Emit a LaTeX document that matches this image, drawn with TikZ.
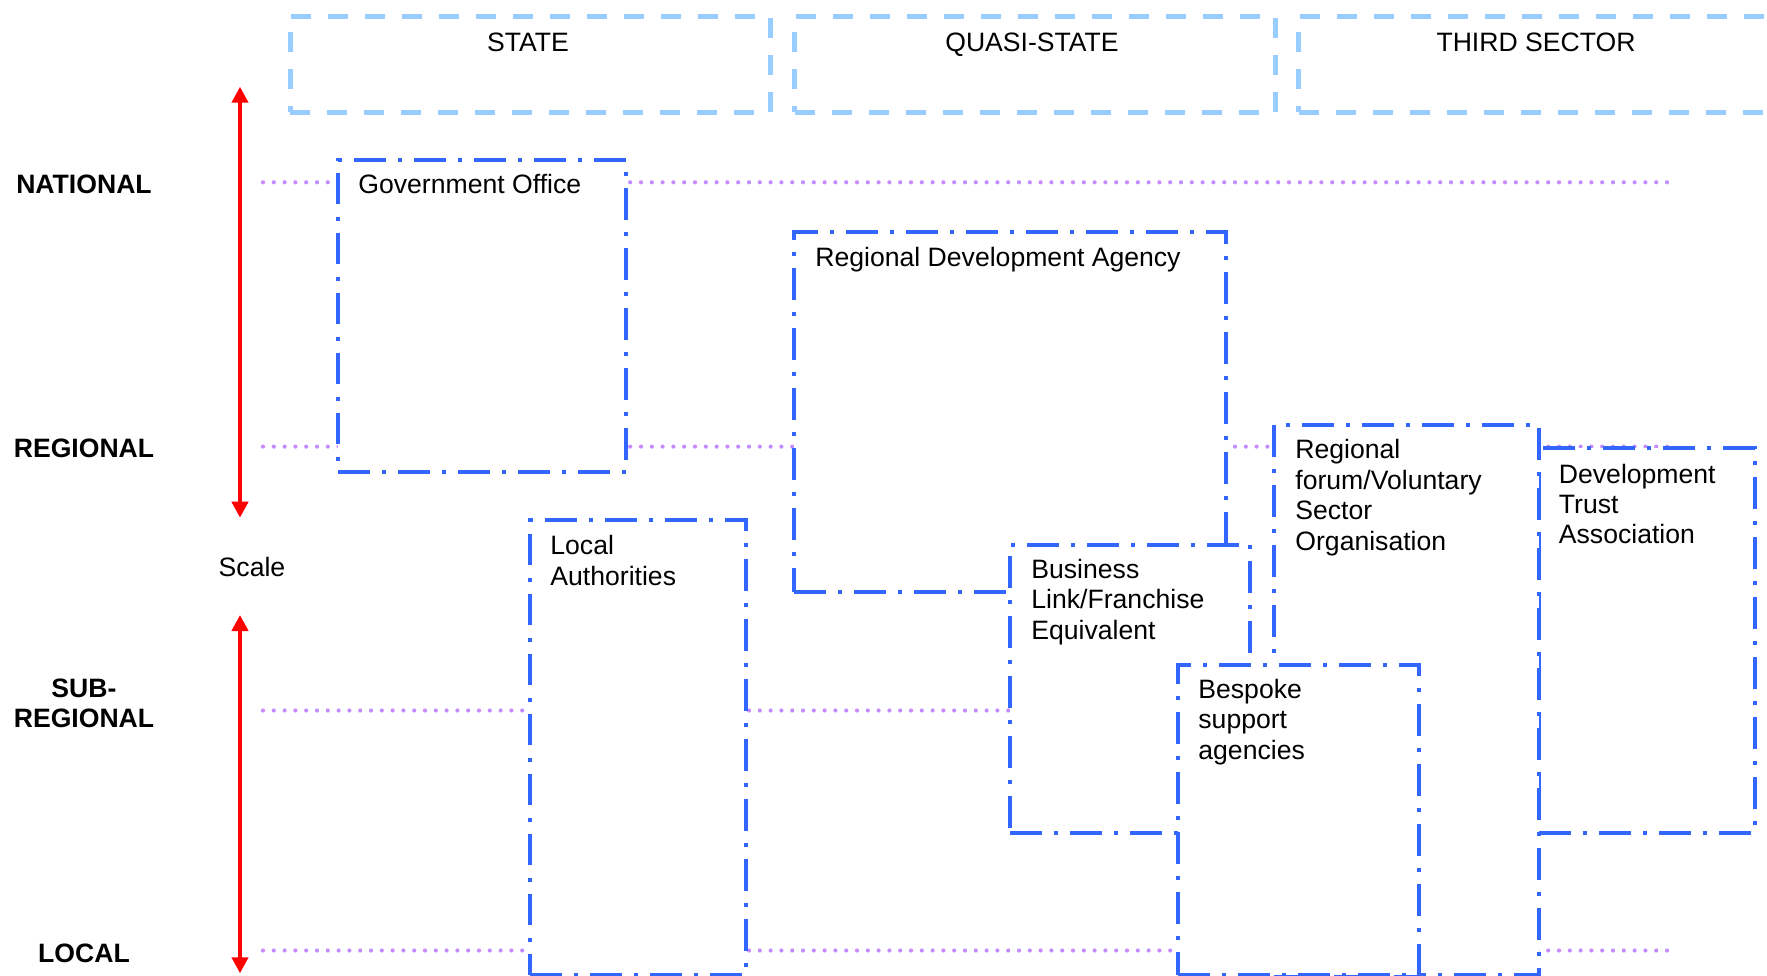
\documentclass[tikz,border=0pt]{standalone}
\usepackage{fontspec}
\setmainfont{Liberation Sans}
\usetikzlibrary{arrows.meta}
\definecolor{hdrblue}{HTML}{99CCFF}
\definecolor{boxblue}{HTML}{3366FF}
\definecolor{guidepurple}{HTML}{C68CFF}
\definecolor{scalered}{HTML}{FF0000}
\begin{document}
\begin{tikzpicture}[x=0.5pt,y=-0.5pt,
  hdrbox/.style={draw=hdrblue, line width=2.5pt, dash pattern=on 10pt off 8.5pt, inner sep=0pt, anchor=north west},
  orgbox/.style={draw=boxblue, fill=white, line width=2pt, dash pattern=on 15.85pt off 6.15pt on 2pt off 6pt, inner sep=0pt, anchor=north west},
  guideline/.style={draw=guidepurple, line width=2.1pt, line cap=round, dash pattern=on 0pt off 5.4pt},
  scalearrow/.style={draw=scalered, line width=2.2pt, {Triangle[length=8pt,width=8pt]}-{Triangle[length=8pt,width=8pt]}},
  lbl/.style={font=\fontsize{13.3}{15.2}\selectfont, inner sep=0pt},
  boxtext/.style={lbl, align=left, anchor=north west},
  hdrtext/.style={lbl, anchor=base},
  leveltext/.style={font=\fontsize{13.3}{15.2}\selectfont\bfseries, inner sep=0pt, align=center, anchor=north},
]
\useasboundingbox (0,0) rectangle (1767,975);

% column headers
\node[hdrbox, minimum width=240.25pt, minimum height=48pt] (state) at (287.7,13.5) {};
\node[hdrbox, minimum width=240.25pt, minimum height=48pt] (quasi) at (792,13.5) {};
\node[hdrbox, minimum width=240.25pt, minimum height=48pt] (third) at (1296,13.5) {};
\node[hdrtext] (statelbl) at (528,51.5) {STATE};
\node[hdrtext] (quasilbl) at (1032,51.5) {QUASI-STATE};
\node[hdrtext] (thirdlbl) at (1536,51.5) {THIRD SECTOR};

% guide lines
\coordinate (nat1) at (263,182.3);  \coordinate (nat2) at (1676,182.3);
\coordinate (reg1) at (263,446.6);  \coordinate (reg2) at (1676,446.6);
\coordinate (sub1) at (263,710.5);  \coordinate (sub2) at (1676,710.5);
\coordinate (loc1) at (263,950.5);  \coordinate (loc2) at (1676,950.5);
\draw[guideline] (nat1) -- (nat2);
\draw[guideline] (reg1) -- (reg2);
\draw[guideline] (sub1) -- (sub2);
\draw[guideline] (loc1) -- (loc2);

% scale arrows
\coordinate (up1) at (240,86.7);  \coordinate (up2) at (240,517.7);
\coordinate (lo1) at (240,615);   \coordinate (lo2) at (240,973.3);
\draw[scalearrow] (up1) -- (up2);
\draw[scalearrow] (lo1) -- (lo2);
\node[hdrtext] (scale) at (252,576.7) {Scale};

% level labels
\node[leveltext] (national) at (84,172.0) {\strut NATIONAL};
\node[leveltext] (regional) at (84,436.2) {\strut REGIONAL};
\node[leveltext] (subregional) at (84,675.4) {\strut SUB-\\\strut REGIONAL};
\node[leveltext] (local) at (84,940.4) {\strut LOCAL};

% organisation boxes
\node[orgbox, minimum width=144pt, minimum height=155.85pt] (gov) at (336,158.3) {};
\node[orgbox, minimum width=216pt, minimum height=180pt] (rda) at (792,230) {};
\node[orgbox, minimum width=108pt, minimum height=227.35pt] (la) at (528,518.3) {};
\node[orgbox, minimum width=120pt, minimum height=144.25pt] (bl) at (1008,542.5) {};
\node[orgbox, minimum width=107.75pt, minimum height=192.5pt] (dta) at (1537,446) {};
\node[orgbox, minimum width=132.25pt, minimum height=275.25pt] (rf) at (1272.3,422.5) {};
\node[orgbox, minimum width=120.5pt, minimum height=155.25pt] (bsa) at (1176,662.5) {};

% box texts
\node[boxtext] (govt) at (358,172.0) {\strut Government Office};
\node[boxtext] (rdat) at (815,244.4) {\strut Regional Development Agency};
\node[boxtext] (rft) at (1295,437.2) {\strut Regional\\\strut forum/Voluntary\\\strut Sector\\\strut Organisation};
\node[boxtext] (dtat) at (1558.5,461.4) {\strut Development\\\strut Trust\\\strut Association};
\node[boxtext] (lat) at (550,533.0) {\strut Local\\\strut Authorities};
\node[boxtext] (blt) at (1031,556.7) {\strut Business\\\strut Link/Franchise\\\strut Equivalent};
\node[boxtext] (bsat) at (1198,676.7) {\strut Bespoke\\\strut support\\\strut agencies};
\end{tikzpicture}
\end{document}
